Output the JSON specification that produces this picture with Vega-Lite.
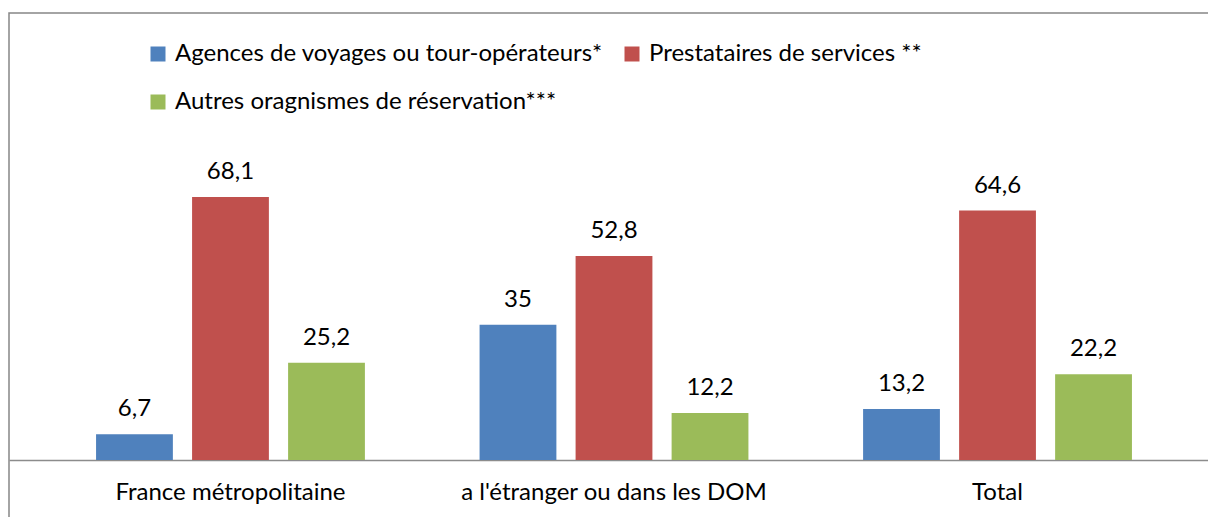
{
  "$schema": "https://vega.github.io/schema/vega-lite/v6.json",
  "width": 1210,
  "height": 520,
  "autosize": {"type": "none"},
  "padding": {"left": 9, "top": 13, "right": -11, "bottom": -16},
  "background": "white",
  "config": {
    "font": "Lato",
    "view": {"stroke": "#868686", "strokeWidth": 1.5},
    "locale": {"number": {"decimal": ",", "thousands": " ", "grouping": [3], "currency": ["", " €"]}}
  },
  "data": {
    "values": [
      {"lieu": "France métropolitaine", "type": "Agences de voyages ou tour-opérateurs*", "valeur": 6.7},
      {"lieu": "France métropolitaine", "type": "Prestataires de services **", "valeur": 68.1},
      {"lieu": "France métropolitaine", "type": "Autres oragnismes de réservation***", "valeur": 25.2},
      {"lieu": "a l'étranger ou dans les DOM", "type": "Agences de voyages ou tour-opérateurs*", "valeur": 35},
      {"lieu": "a l'étranger ou dans les DOM", "type": "Prestataires de services **", "valeur": 52.8},
      {"lieu": "a l'étranger ou dans les DOM", "type": "Autres oragnismes de réservation***", "valeur": 12.2},
      {"lieu": "Total", "type": "Agences de voyages ou tour-opérateurs*", "valeur": 13.2},
      {"lieu": "Total", "type": "Prestataires de services **", "valeur": 64.6},
      {"lieu": "Total", "type": "Autres oragnismes de réservation***", "valeur": 22.2}
    ]
  },
  "encoding": {
    "x": {
      "field": "lieu", "type": "nominal",
      "sort": ["France métropolitaine", "a l'étranger ou dans les DOM", "Total"],
      "scale": {"paddingInner": 0.299, "paddingOuter": 0.227},
      "axis": {
        "title": null, "orient": "bottom", "offset": -73, "labelAngle": 0,
        "ticks": false, "domainColor": "#8c8c8c", "domainWidth": 1.5,
        "labelFontSize": 24, "labelColor": "#000000", "labelPadding": 20, "labelFont": "Lato", "labelLimit": 600
      }
    },
    "xOffset": {
      "field": "type", "type": "nominal",
      "sort": ["Agences de voyages ou tour-opérateurs*", "Prestataires de services **", "Autres oragnismes de réservation***"],
      "scale": {"paddingInner": 0.2, "paddingOuter": 0}
    },
    "y": {
      "field": "valeur", "type": "quantitative",
      "scale": {"domain": [-18.9, 115.74], "nice": false, "zero": false},
      "axis": null
    }
  },
  "layer": [
    {
      "mark": {"type": "bar"},
      "encoding": {
        "y2": {"datum": 0},
        "color": {
          "field": "type", "type": "nominal",
          "sort": ["Agences de voyages ou tour-opérateurs*", "Prestataires de services **", "Autres oragnismes de réservation***"],
          "scale": {
            "domain": ["Agences de voyages ou tour-opérateurs*", "Prestataires de services **", "Autres oragnismes de réservation***"],
            "range": ["#4f81bd", "#c0504d", "#9bbb59"]
          },
          "legend": {
            "title": null, "orient": "none", "legendX": 137, "legendY": 29,
            "direction": "horizontal", "columns": 2, "padding": 0,
            "symbolType": "square", "symbolSize": 225, "symbolStrokeWidth": 0,
            "labelFontSize": 24, "labelColor": "#000000", "labelFont": "Lato",
            "labelOffset": 5, "columnPadding": 17, "rowPadding": 24, "labelLimit": 800
          }
        }
      }
    },
    {
      "mark": {"type": "text", "baseline": "alphabetic", "dy": -18, "fontSize": 24, "color": "#000000", "font": "Lato"},
      "encoding": {
        "text": {"field": "valeur", "type": "quantitative", "format": ".1~f"}
      }
    }
  ]
}
